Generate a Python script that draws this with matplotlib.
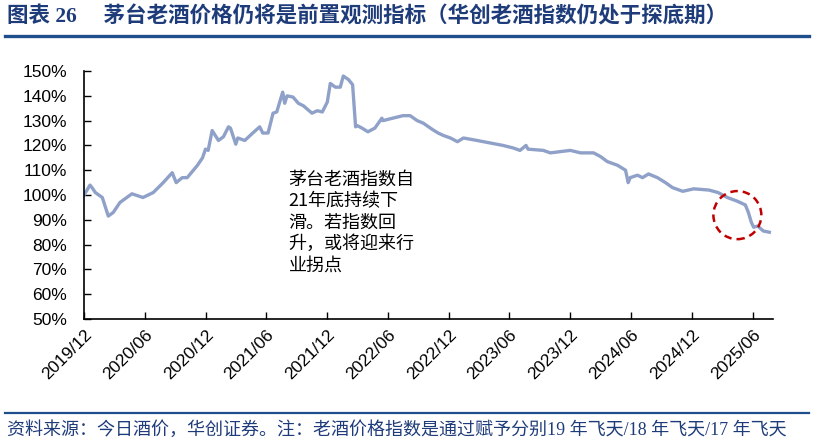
import matplotlib
matplotlib.use('Agg')
import matplotlib.pyplot as plt
import matplotlib.dates as mdates
from matplotlib.patches import Ellipse
from matplotlib.lines import Line2D
import pandas as pd

plt.rcParams['font.family'] = ['Liberation Sans', 'Noto Sans CJK SC', 'DejaVu Sans']

# 茅台老酒指数
dates = [
    '2019-12-01', '2019-12-19', '2019-12-25', '2020-01-04', '2020-01-25', '2020-02-12',
    '2020-02-27', '2020-03-18', '2020-04-23', '2020-05-26', '2020-06-26', '2020-07-26',
    '2020-08-22', '2020-09-03', '2020-09-21', '2020-10-06', '2020-11-06', '2020-11-21',
    '2020-11-30', '2020-12-08', '2020-12-20', '2021-01-08', '2021-01-23', '2021-02-07',
    '2021-02-13', '2021-03-01', '2021-03-07', '2021-03-28', '2021-04-21', '2021-05-12',
    '2021-05-21', '2021-06-06', '2021-06-21', '2021-07-02', '2021-07-20', '2021-07-26',
    '2021-08-02', '2021-08-20', '2021-09-05', '2021-09-20', '2021-10-16', '2021-11-01',
    '2021-11-16', '2021-12-01', '2021-12-10', '2021-12-25', '2022-01-09', '2022-01-18',
    '2022-02-03', '2022-02-15', '2022-02-24', '2022-03-01', '2022-03-15', '2022-04-02',
    '2022-04-23', '2022-05-14', '2022-05-17', '2022-06-16', '2022-07-16', '2022-08-07',
    '2022-08-28', '2022-09-15', '2022-10-12', '2022-10-30', '2022-11-15', '2022-12-06',
    '2022-12-27', '2023-01-14', '2023-02-24', '2023-04-04', '2023-05-13', '2023-06-12',
    '2023-07-03', '2023-07-21', '2023-07-27', '2023-09-11', '2023-10-02', '2023-12-01',
    '2024-01-01', '2024-02-09', '2024-03-01', '2024-03-21', '2024-04-21', '2024-05-15',
    '2024-05-23', '2024-05-29', '2024-06-20', '2024-07-05', '2024-07-23', '2024-08-19',
    '2024-09-12', '2024-10-03', '2024-11-03', '2024-12-06', '2025-01-21', '2025-02-17',
    '2025-03-17', '2025-04-16', '2025-05-10', '2025-05-19', '2025-05-28', '2025-06-04',
    '2025-06-16', '2025-07-03', '2025-07-21',
]
values = [
    100.0, 104.0, 103.0, 101.0, 99.0, 91.5,
    93.0, 97.0, 100.5, 99.0, 101.0, 105.0,
    109.0, 105.0, 107.0, 107.0, 112.0, 115.0,
    118.5, 118.0, 126.0, 122.0, 123.5, 127.5,
    127.0, 120.5, 123.0, 122.0, 125.0, 127.5,
    125.0, 125.0, 133.0, 133.5, 141.5, 137.0,
    140.0, 139.5, 137.0, 136.0, 133.0, 134.0,
    133.5, 137.5, 145.0, 143.5, 143.5, 148.0,
    146.5, 144.5, 127.5, 128.0, 127.0, 125.5,
    127.0, 131.0, 130.0, 131.0, 132.0, 132.0,
    130.0, 129.0, 126.5, 125.0, 124.0, 123.0,
    121.5, 123.0, 122.0, 121.0, 120.0, 119.0,
    118.0, 120.0, 118.5, 118.0, 117.0, 118.0,
    117.0, 117.0, 115.5, 113.5, 112.0, 110.0,
    105.0, 107.0, 108.0, 107.0, 108.5, 107.0,
    105.0, 103.0, 101.5, 102.5, 102.0, 101.0,
    99.0, 97.5, 96.0, 93.0, 89.0, 87.0,
    87.5, 85.5, 85.0,
]

tick_dates = ['2019-12-01', '2020-06-01', '2020-12-01', '2021-06-01', '2021-12-01', '2022-06-01',
              '2022-12-01', '2023-06-01', '2023-12-01', '2024-06-01', '2024-12-01', '2025-06-01']
tick_labels = [d[:7].replace('-', '/') for d in tick_dates]

title = '图表 26     茅台老酒价格仍将是前置观测指标（华创老酒指数仍处于探底期）'
note = '茅台老酒指数自\n21年底持续下\n滑。若指数回\n升，或将迎来行\n业拐点'
source = '资料来源：今日酒价，华创证券。注：老酒价格指数是通过赋予分别19 年飞天/18 年飞天/17 年飞天'

navy = '#1F3C7A'
line_color = '#8FA1C8'

fig = plt.figure(figsize=(8.14, 4.44), dpi=100)
ax = fig.add_axes([0.1032, 0.2815, 0.8464, 0.5585])

x = pd.to_datetime(dates)
ax.plot(x, values, color=line_color, lw=2.4, solid_joinstyle='round')

ax.set_ylim(50, 150)
ax.set_yticks(range(50, 151, 10))
ax.set_yticklabels([f'{v}%' for v in range(50, 151, 10)], fontsize=12.5)
ax.set_xlim(pd.Timestamp('2019-12-01'), pd.Timestamp('2025-08-01'))
ax.set_xticks(pd.to_datetime(tick_dates))
ax.set_xticklabels(tick_labels, rotation=45, ha='right', va='top', rotation_mode='anchor', fontsize=12.5)

for s in ['top', 'right']:
    ax.spines[s].set_visible(False)
ax.spines['left'].set_linewidth(1.2)
ax.spines['bottom'].set_linewidth(1.2)
ax.tick_params(axis='y', direction='in', length=5, width=1.0, pad=12)
ax.tick_params(axis='x', direction='in', length=5, width=1.0, pad=6)

# 注释与红圈
ax.text(0.297, 0.60, note, transform=ax.transAxes, ha='left', va='top',
        fontsize=13, linespacing=1.25, family=['Noto Sans CJK SC', 'DejaVu Sans'])
cx = mdates.date2num(pd.Timestamp('2025-04-16'))
ax.add_patch(Ellipse((cx, 91.9), 144, 19.4, fill=False, edgecolor='#C00000', lw=1.8, ls=(0, (3, 2)),
                     zorder=3))

# 标题与来源
fig.text(0.009, 0.962, title, ha='left', va='center', fontsize=15.5, fontweight='bold', color=navy,
         family=['Liberation Serif', 'Noto Sans CJK SC', 'DejaVu Sans'])
fig.add_artist(Line2D([0.006, 0.994], [0.919, 0.919], transform=fig.transFigure, color='#1F4E8C', lw=2.4))
fig.add_artist(Line2D([0.006, 0.994], [0.070, 0.070], transform=fig.transFigure, color='#1F4E8C', lw=1.6))
fig.text(0.009, 0.032, source, ha='left', va='center', fontsize=13, color=navy,
         family=['Liberation Serif', 'Noto Sans CJK SC', 'DejaVu Sans'])

fig.savefig('out.png', dpi=100)
